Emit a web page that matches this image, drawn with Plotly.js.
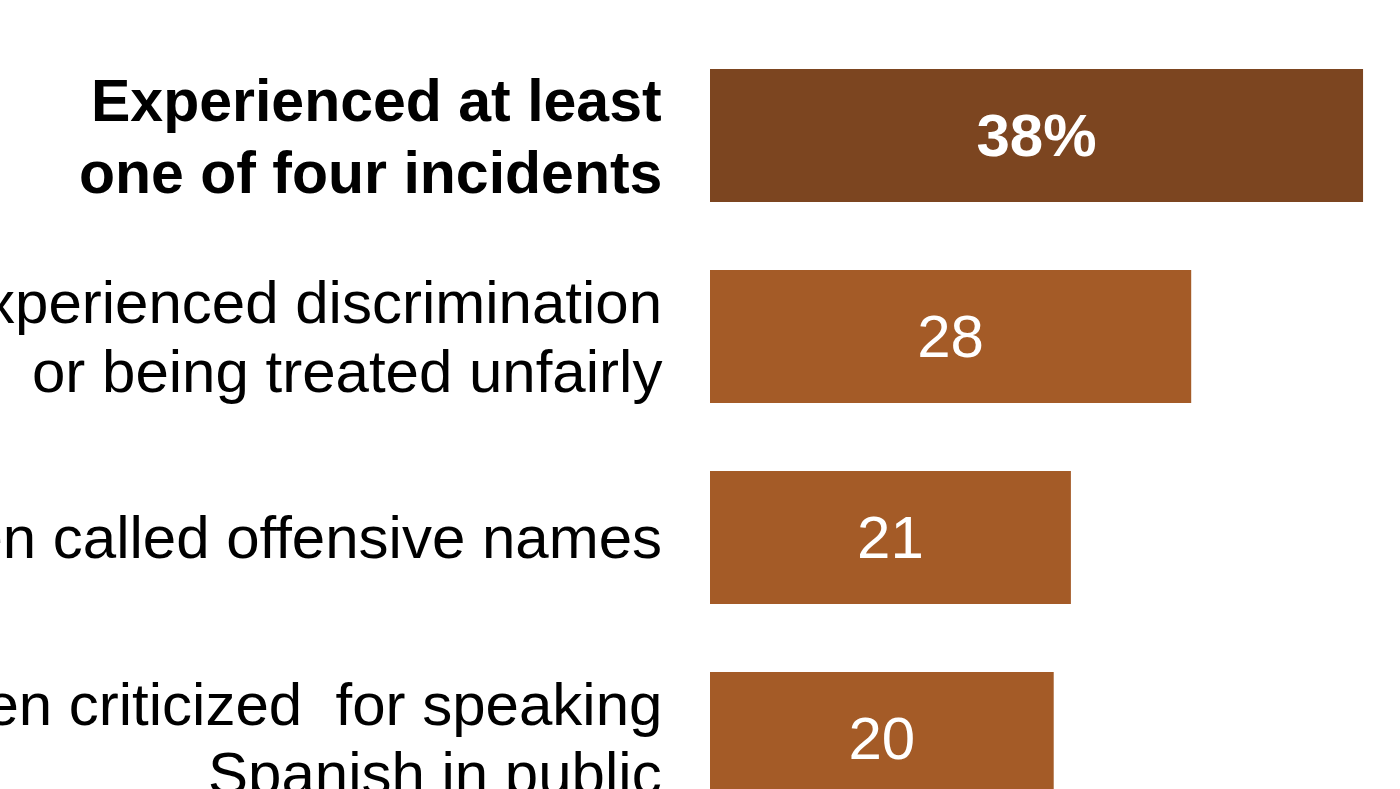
<!DOCTYPE html>
<html>
<head>
<meta charset="utf-8">
<script src="https://cdn.plot.ly/plotly-3.0.1.min.js"></script>
<style>html,body{margin:0;padding:0;background:#fff;overflow:hidden}#chart{width:1400px;height:789px}</style>
</head>
<body>
<div id="chart"></div>
<script>
const categories = [
  "Experienced at least<br>one of four incidents",
  "Experienced discrimination<br>or being treated unfairly",
  "Been called offensive names",
  "Been criticized  for speaking<br>Spanish in public"
];
const values = [38, 28, 21, 20];
const boldFlags = [true, false, false, false];
const barColors = ["#7C4520", "#A45B27", "#A45B27", "#A45B27"];

const barText = values.map((v, i) => boldFlags[i] ? "<b>" + v + "%</b>" : String(v));

const FONT = "Liberation Sans, Arial, sans-serif";

const trace = {
  type: "bar",
  orientation: "h",
  x: values,
  y: categories,
  text: barText,
  textposition: "inside",
  insidetextanchor: "middle",
  constraintext: "none",
  textfont: {family: FONT, size: 60, color: "#ffffff"},
  marker: {color: barColors, line: {width: 0}},
  hoverinfo: "none",
  cliponaxis: true
};

// one annotation per label line, so the line spacing can follow the reference
const annotations = [];
categories.forEach((c, i) => {
  const lines = c.split("<br>");
  const n = lines.length;
  const gap = boldFlags[i] ? 72 : 69;
  lines.forEach((ln, j) => {
    annotations.push({
      xref: "x", yref: "y",
      x: 0, y: c,
      xshift: -46,
      yshift: ((n - 1) / 2 - j) * gap - (boldFlags[i] ? 2 : 0),
      xanchor: "right", yanchor: "middle",
      align: "right",
      showarrow: false,
      text: boldFlags[i] ? "<b>" + ln + "</b>" : ln,
      font: {family: FONT, size: boldFlags[i] ? 59 : 60, color: "#000000"}
    });
  });
});

const layout = {
  width: 1400, height: 789,
  margin: {l: 710, r: 0, t: 0, b: 0, pad: 0},
  paper_bgcolor: "#ffffff", plot_bgcolor: "#ffffff",
  showlegend: false,
  bargap: 0.338,
  xaxis: {range: [0, 40.15], showgrid: false, zeroline: false, showticklabels: false, ticks: "", showline: false, fixedrange: true},
  yaxis: {type: "category", categoryorder: "array", categoryarray: categories, range: [3.251, -0.674],
          showgrid: false, zeroline: false, showticklabels: false, ticks: "", showline: false, fixedrange: true},
  annotations: annotations
};

Plotly.newPlot("chart", [trace], layout, {displayModeBar: false, staticPlot: true});
</script>
</body>
</html>
